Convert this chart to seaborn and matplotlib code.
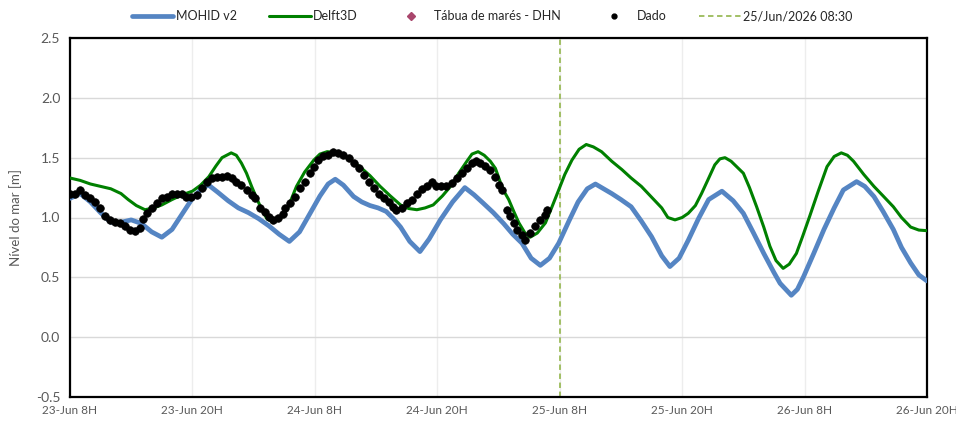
import matplotlib
matplotlib.use("Agg")
import matplotlib.pyplot as plt
from matplotlib.lines import Line2D
import seaborn as sns
import pandas as pd
import numpy as np

# ---------------- data (hours after 23-Jun-2026 08:30) ----------------
start = pd.Timestamp("2026-06-23 08:30")
forecast_time = pd.Timestamp("2026-06-25 08:30")

mohid_t = [0, 1, 2, 3, 4, 5, 6, 7, 8, 9, 10, 11, 12, 13, 13.6, 14.5, 15.5, 16.5, 17.5,
           18.5, 19.5, 20.5, 21.5, 22.5, 23.5, 24.5, 25.3, 26, 26.8, 27.8, 28.6, 29.4,
           30.2, 31, 31.7, 32.4, 33.3, 34.3, 35.2, 36.3, 37.5, 38.7, 39.6, 40.5, 41.5,
           42.5, 43.4, 44.3, 45.2, 46.1, 47, 47.9, 48.9, 49.8, 50.7, 51.5, 52.3, 53.1,
           54, 55, 56, 57, 58, 58.8, 59.7, 60.6, 61.6, 62.6, 63.9, 65, 66, 67, 68, 69,
           69.6, 70.7, 71.3, 71.9, 72.9, 73.9, 74.9, 75.8, 77.1, 77.9, 78.8, 79.7, 80.7,
           81.5, 82.4, 83.2, 84]
mohid_v = [1.16, 1.20, 1.13, 1.04, 0.96, 0.96, 0.98, 0.95, 0.88, 0.835, 0.90, 1.03, 1.16,
           1.25, 1.27, 1.21, 1.14, 1.08, 1.04, 0.99, 0.93, 0.86, 0.80, 0.88, 1.03, 1.18,
           1.28, 1.32, 1.27, 1.175, 1.13, 1.10, 1.08, 1.05, 0.99, 0.92, 0.80, 0.715, 0.82,
           0.98, 1.13, 1.25, 1.19, 1.12, 1.04, 0.95, 0.86, 0.785, 0.66, 0.60, 0.66, 0.785,
           0.97, 1.13, 1.24, 1.28, 1.24, 1.20, 1.15, 1.09, 0.97, 0.84, 0.68, 0.59, 0.66,
           0.81, 0.99, 1.15, 1.22, 1.14, 1.035, 0.87, 0.70, 0.54, 0.45, 0.35, 0.40, 0.505,
           0.70, 0.90, 1.08, 1.23, 1.30, 1.26, 1.175, 1.05, 0.90, 0.75, 0.62, 0.52, 0.47]

delft_t = [0, 1, 2, 3, 4, 5, 5.7, 6.5, 7.35, 8.2, 9, 10, 11, 12, 12.8, 13.6, 14.3, 14.9,
           15.8, 16.3, 16.8, 17.3, 17.8, 18.3, 18.8, 19.3, 19.9, 20.6, 21.3, 22.2, 23, 23.9,
           24.5, 25.2, 26.5, 27.5, 28.4, 29.4, 30.4, 31.4, 32.4, 33.2, 34, 34.8, 35.6, 36.5,
           37.3, 38.1, 38.9, 39.4, 40.0, 40.6, 41.2, 41.7, 42.2, 42.6, 43.0, 43.5, 44.0,
           44.6, 45.1, 45.8, 46.6, 47.2, 47.9, 48.5, 49.2, 49.9, 50.6, 51.3, 52.1, 53.1,
           54.1, 55, 56, 57, 58, 58.6, 59.3, 60, 60.6, 61.3, 61.9, 62.5, 63.2, 63.7, 64.2,
           64.8, 65.4, 66, 66.6, 67.3, 68, 68.6, 69.2, 69.9, 70.5, 71.2, 71.8, 72.5, 73.3,
           74.2, 74.9, 75.6, 76.2, 76.8, 77.8, 78.8, 79.7, 80.7, 81.5, 82.4, 83.2, 84]
delft_v = [1.33, 1.31, 1.28, 1.26, 1.24, 1.20, 1.15, 1.10, 1.065, 1.08, 1.105, 1.15, 1.19,
           1.22, 1.27, 1.34, 1.43, 1.50, 1.54, 1.52, 1.455, 1.37, 1.26, 1.16, 1.065, 0.99,
           0.96, 0.99, 1.07, 1.26, 1.38, 1.48, 1.53, 1.55, 1.54, 1.48, 1.425, 1.35, 1.26,
           1.18, 1.105, 1.075, 1.065, 1.08, 1.105, 1.18, 1.26, 1.37, 1.47, 1.53, 1.55, 1.52,
           1.47, 1.41, 1.29, 1.21, 1.15, 1.05, 0.955, 0.87, 0.835, 0.87, 0.955, 1.08, 1.23,
           1.36, 1.48, 1.57, 1.61, 1.59, 1.55, 1.47, 1.40, 1.33, 1.26, 1.17, 1.08, 1.00,
           0.98, 1.00, 1.035, 1.10, 1.20, 1.31, 1.44, 1.49, 1.50, 1.47, 1.42, 1.37, 1.25,
           1.09, 0.92, 0.76, 0.64, 0.575, 0.61, 0.70, 0.84, 1.01, 1.21, 1.425, 1.51, 1.54,
           1.52, 1.47, 1.36, 1.26, 1.18, 1.09, 1.00, 0.92, 0.895, 0.89]

obs_t = [0, 0.5, 1.0, 1.5, 2.0, 2.45, 2.9, 3.4, 3.9, 4.4, 4.9, 5.4, 5.9, 6.4, 6.9, 7.2,
         7.5, 8.0, 8.5, 9.0, 9.5, 10.0, 10.45, 10.95, 11.4, 11.9, 12.4, 12.9, 13.4, 13.9,
         14.4, 14.9, 15.4, 15.85, 16.3, 16.8, 17.3, 17.8, 18.1, 18.6, 19.1, 19.5, 19.9,
         20.4, 20.9, 21.1, 21.6, 22.1, 22.5, 23.0, 23.5, 23.9, 24.3, 24.8, 25.3, 25.8,
         26.3, 26.8, 27.3, 27.8, 28.3, 28.8, 29.3, 29.8, 30.3, 30.8, 31.3, 31.7, 32.0,
         32.5, 33.0, 33.5, 34.0, 34.5, 35.0, 35.5, 35.9, 36.4, 36.9, 37.4, 37.9, 38.4,
         38.9, 39.4, 39.8, 40.2, 40.7, 41.2, 41.7, 42.0, 42.3, 42.8, 43.1, 43.5, 43.8,
         44.3, 44.6, 45.1, 45.6, 46.1, 46.6, 46.8]
obs_v = [1.20, 1.20, 1.23, 1.19, 1.16, 1.13, 1.08, 1.01, 0.98, 0.965, 0.95, 0.925, 0.895,
         0.89, 0.91, 0.99, 1.035, 1.08, 1.12, 1.16, 1.175, 1.195, 1.20, 1.20, 1.175, 1.175,
         1.19, 1.245, 1.30, 1.33, 1.335, 1.34, 1.35, 1.33, 1.30, 1.27, 1.23, 1.19, 1.16,
         1.08, 1.05, 1.005, 0.98, 0.995, 1.03, 1.08, 1.12, 1.175, 1.245, 1.30, 1.37, 1.425,
         1.48, 1.51, 1.525, 1.545, 1.54, 1.525, 1.50, 1.455, 1.41, 1.355, 1.30, 1.245, 1.20,
         1.16, 1.13, 1.09, 1.065, 1.08, 1.12, 1.15, 1.20, 1.235, 1.26, 1.30, 1.265, 1.26,
         1.26, 1.29, 1.33, 1.37, 1.41, 1.455, 1.475, 1.455, 1.43, 1.40, 1.34, 1.27, 1.23,
         1.065, 1.01, 0.955, 0.895, 0.855, 0.81, 0.87, 0.925, 0.98, 1.02, 1.065]

tick_labels = ["23-Jun 8H", "23-Jun 20H", "24-Jun 8H", "24-Jun 20H",
               "25-Jun 8H", "25-Jun 20H", "26-Jun 8H", "26-Jun 20H"]
y_ticks = [-0.5, 0.0, 0.5, 1.0, 1.5, 2.0, 2.5]

# ---------------- build frames ----------------
def to_df(t, v):
    return pd.DataFrame({"time": start + pd.to_timedelta(np.array(t), unit="h"),
                         "nivel": v})

df_mohid = to_df(mohid_t, mohid_v)
df_delft = to_df(delft_t, delft_v)
df_obs = to_df(obs_t, obs_v)

# ---------------- style ----------------
sns.set_theme(style="white")
plt.rcParams["font.family"] = ["Lato", "DejaVu Sans"]

C_MOHID = "#5585C3"
C_DELFT = "#008000"
C_DHN = "#A9466C"
C_DASH = "#9BBB59"
TXT = "#595959"

fig = plt.figure(figsize=(9.56, 4.22), dpi=100)
ax = fig.add_axes([70 / 956, 25 / 422, 857 / 956, 359 / 422])

sns.lineplot(data=df_mohid, x="time", y="nivel", ax=ax, color=C_MOHID, lw=3.4,
             solid_capstyle="round", zorder=3)
sns.lineplot(data=df_delft, x="time", y="nivel", ax=ax, color=C_DELFT, lw=2.2, zorder=4)
sns.scatterplot(data=df_obs, x="time", y="nivel", ax=ax, color="black", s=30,
                edgecolor="black", linewidth=0.5, zorder=5)
ax.axvline(forecast_time, color=C_DASH, lw=1.3, ls=(0, (3, 2)), zorder=2)

tick_pos = [start + pd.Timedelta(hours=12 * i) for i in range(len(tick_labels))]
ax.set_xlim(tick_pos[0], tick_pos[-1])
ax.set_xticks(tick_pos)
ax.set_xticklabels(tick_labels)
ax.set_ylim(-0.5, 2.5)
ax.set_yticks(y_ticks)
ax.set_yticklabels([f"{v:.1f}" for v in y_ticks])
ax.tick_params(axis="x", labelsize=8.5, colors=TXT, length=0, pad=6)
ax.tick_params(axis="y", labelsize=10, colors=TXT, length=0, pad=7)

ax.grid(axis="y", color="#D9D9D9", lw=1.0)
ax.grid(axis="x", color="#EDEDED", lw=1.0)
ax.set_axisbelow(True)
for s in ax.spines.values():
    s.set_visible(True)
    s.set_color("black")
    s.set_linewidth(1.6)

ax.set_xlabel("")
ax.set_ylabel("Nível do mar [m]", fontsize=9.5, color=TXT, labelpad=10)

handles = [
    Line2D([], [], color=C_MOHID, lw=3.4),
    Line2D([], [], color=C_DELFT, lw=2.2),
    Line2D([], [], color=C_DHN, marker="D", ls="none", markersize=4.5),
    Line2D([], [], color="black", marker="o", ls="none", markersize=3.5),
    Line2D([], [], color=C_DASH, lw=1.3, ls=(0, (3, 2))),
]
labels = ["MOHID v2", "Delft3D", "Tábua de marés - DHN", "Dado", "25/Jun/2026 08:30"]
fig.legend(handles, labels, loc="center", bbox_to_anchor=(0.515, 0.962), ncol=5,
           frameon=False, fontsize=9, handlelength=3.3, columnspacing=2.6,
           handletextpad=0.2)

fig.savefig("out.png", dpi=100)
